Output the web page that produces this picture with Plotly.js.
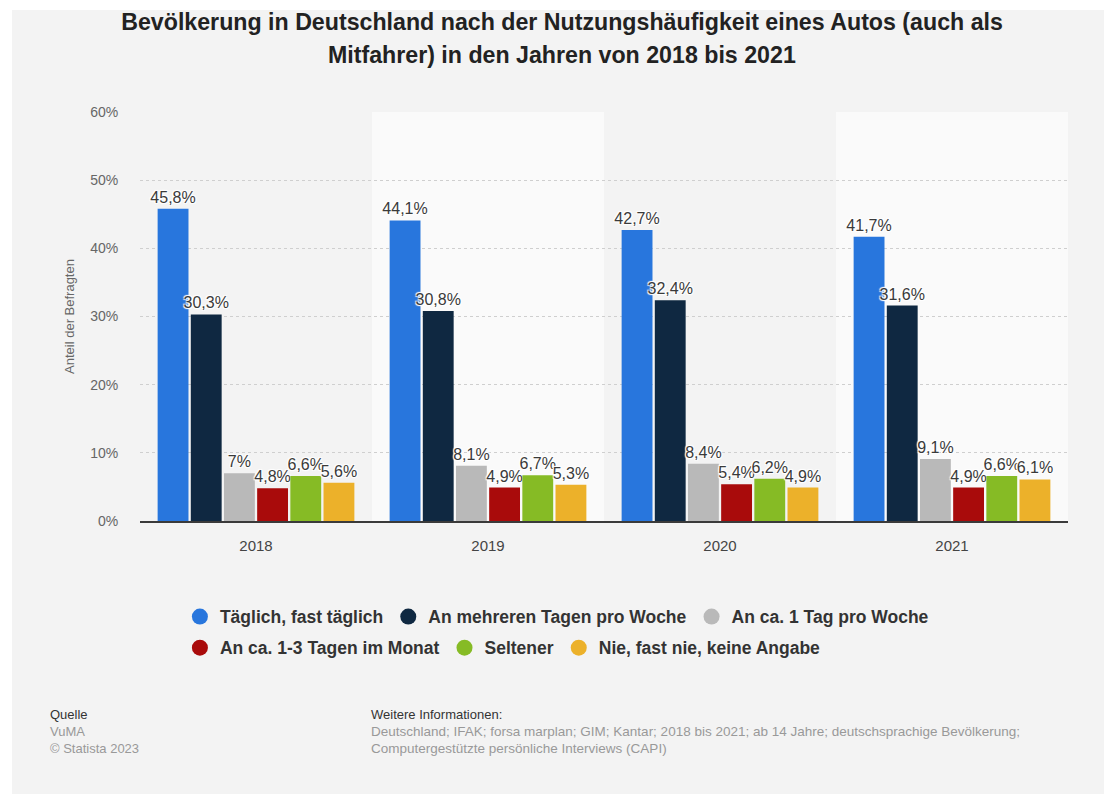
<!DOCTYPE html>
<html>
<head>
<meta charset="utf-8">
<script src="https://cdn.plot.ly/plotly-3.0.1.min.js"></script>
<style>
  html, body { margin: 0; padding: 0; background: #ffffff; }
  #chart { position: absolute; left: 12px; top: 10px; width: 1092px; height: 784px; }
</style>
</head>
<body>
<div id="chart"></div>
<script>
// ---- Data ----
const years = ['2018', '2019', '2020', '2021'];
const seriesNames = [
  'Täglich, fast täglich',
  'An mehreren Tagen pro Woche',
  'An ca. 1 Tag pro Woche',
  'An ca. 1-3 Tagen im Monat',
  'Seltener',
  'Nie, fast nie, keine Angabe'
];
const taeglich      = [45.8, 44.1, 42.7, 41.7];
const mehrereTage   = [30.3, 30.8, 32.4, 31.6];
const einTagWoche   = [7.0, 8.1, 8.4, 9.1];
const tageImMonat   = [4.8, 4.9, 5.4, 4.9];
const seltener      = [6.6, 6.7, 6.2, 6.6];
const nie           = [5.6, 5.3, 4.9, 6.1];
const yTicks = [0, 10, 20, 30, 40, 50, 60];
const seriesColors = ['#2876dd', '#0f2841', '#b9b9b9', '#a90b0b', '#86bb25', '#ecb12a'];

const seriesValues = [taeglich, mehrereTage, einTagWoche, tageImMonat, seltener, nie];

function fmt(v) { return String(v).replace('.', ',') + '%'; }

const F = 'Liberation Sans, Arial, sans-serif';

const traces = [];
seriesValues.forEach((vals, i) => {
  traces.push({
    type: 'bar',
    name: seriesNames[i],
    x: years,
    y: vals,
    text: vals.map(fmt),
    textposition: 'outside',
    constraintext: 'none',
    cliponaxis: false,
    textfont: { family: F, size: 16, color: '#3a3a3a',
                shadow: '1px 1px 1px #fff, -1px -1px 1px #fff, 1px -1px 1px #fff, -1px 1px 1px #fff' },
    marker: { color: seriesColors[i], line: { width: 0 } },
    showlegend: false,
    hoverinfo: 'skip'
  });
});
// legend entries with round markers: first three in row 1, last three in row 2
seriesNames.forEach((n, i) => {
  traces.push({
    type: 'scatter', mode: 'markers', name: n,
    x: [null], y: [null],
    marker: { color: seriesColors[i], size: 16, symbol: 'circle' },
    showlegend: true, hoverinfo: 'skip',
    legend: i < 3 ? 'legend' : 'legend2'
  });
});

// alternating column bands
const shapes = years.map((y, i) => ({
  type: 'rect', xref: 'x', yref: 'paper', layer: 'below',
  x0: i - 0.5, x1: i + 0.5, y0: 0, y1: 1,
  fillcolor: (i % 2 === 1) ? '#fafafa' : 'rgba(0,0,0,0)', line: { width: 0 }
}));

const legendFont = { family: F, size: 17.5, color: '#333', weight: 'bold' };
const layout = {
  width: 1092, height: 784,
  paper_bgcolor: '#f3f3f3',
  plot_bgcolor: 'rgba(0,0,0,0)',
  margin: { l: 128, r: 36, t: 102, b: 273 },
  font: { family: F, color: '#333' },
  title: {
    text: 'Bevölkerung in Deutschland nach der Nutzungshäufigkeit eines Autos (auch als',
    font: { family: F, size: 23.2, color: '#222', weight: 'bold' },
    x: 0.5037, xanchor: 'center', xref: 'container',
    y: 0.985, yanchor: 'middle', yref: 'container'
  },
  barmode: 'group',
  bargap: 0.142,
  bargroupgap: 0.07,
  xaxis: {
    type: 'category',
    showline: true, linecolor: '#3a3a3a', linewidth: 2,
    showgrid: false, zeroline: false,
    ticks: 'outside', ticklen: 10, tickcolor: 'rgba(0,0,0,0)',
    tickfont: { family: F, size: 15, color: '#444' },
    fixedrange: true
  },
  yaxis: {
    range: [0, 60],
    tickvals: yTicks,
    ticktext: yTicks.map(v => v + '%'),
    showgrid: true, gridcolor: '#cfcfcf', griddash: 'dot', gridwidth: 1,
    zeroline: false, showline: false,
    ticks: 'outside', ticklen: 18, tickcolor: 'rgba(0,0,0,0)',
    tickfont: { family: F, size: 14, color: '#666' },
    title: { text: 'Anteil der Befragten', font: { family: F, size: 13, color: '#666' }, standoff: 12 },
    automargin: false,
    fixedrange: true
  },
  legend: {
    orientation: 'h',
    x: 0.043, xanchor: 'left',
    y: -0.19, yanchor: 'top',
    font: legendFont,
    bgcolor: 'rgba(0,0,0,0)',
    itemsizing: 'trace',
    traceorder: 'normal'
  },
  legend2: {
    orientation: 'h',
    x: 0.043, xanchor: 'left',
    y: -0.266, yanchor: 'top',
    font: legendFont,
    bgcolor: 'rgba(0,0,0,0)',
    itemsizing: 'trace',
    traceorder: 'normal'
  },
  shapes: shapes,
  annotations: [
    { text: 'Mitfahrer) in den Jahren von 2018 bis 2021', xref: 'paper', yref: 'paper',
      x: 0.455, y: 1.139, xanchor: 'center', yanchor: 'middle', showarrow: false,
      font: { family: F, size: 23.2, color: '#222', weight: 'bold' } },
    { text: 'Quelle', xref: 'paper', yref: 'paper', x: -0.0991, y: -0.474,
      xanchor: 'left', yanchor: 'middle', showarrow: false,
      font: { family: F, size: 13, color: '#333' } },
    { text: 'VuMA', xref: 'paper', yref: 'paper', x: -0.0991, y: -0.5156,
      xanchor: 'left', yanchor: 'middle', showarrow: false,
      font: { family: F, size: 13, color: '#999' } },
    { text: '© Statista 2023', xref: 'paper', yref: 'paper', x: -0.0991, y: -0.5572,
      xanchor: 'left', yanchor: 'middle', showarrow: false,
      font: { family: F, size: 13, color: '#999' } },
    { text: 'Weitere Informationen:', xref: 'paper', yref: 'paper', x: 0.2468, y: -0.474,
      xanchor: 'left', yanchor: 'middle', showarrow: false,
      font: { family: F, size: 13, color: '#333' } },
    { text: 'Deutschland; IFAK; forsa marplan; GIM; Kantar; 2018 bis 2021; ab 14 Jahre; deutschsprachige Bevölkerung;',
      xref: 'paper', yref: 'paper', x: 0.2468, y: -0.5156,
      xanchor: 'left', yanchor: 'middle', showarrow: false,
      font: { family: F, size: 13.5, color: '#999' } },
    { text: 'Computergestützte persönliche Interviews (CAPI)', xref: 'paper', yref: 'paper', x: 0.2468, y: -0.5572,
      xanchor: 'left', yanchor: 'middle', showarrow: false,
      font: { family: F, size: 13.5, color: '#999' } }
  ]
};

Plotly.newPlot('chart', traces, layout, { displayModeBar: false, responsive: false });
</script>
</body>
</html>
